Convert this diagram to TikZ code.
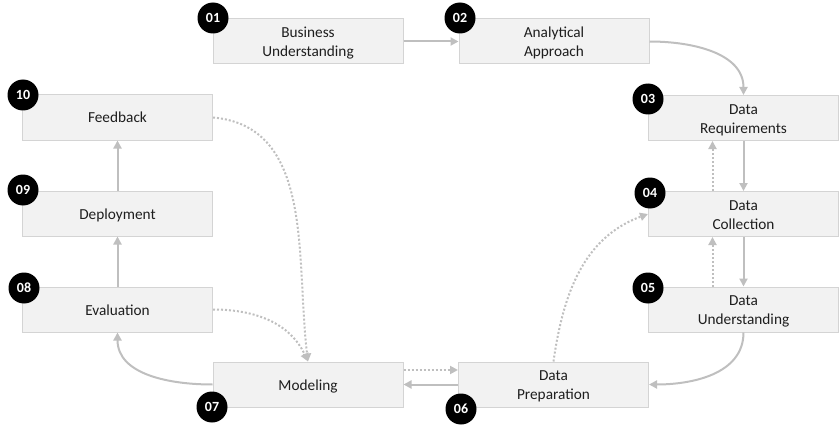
\documentclass[tikz,border=0pt]{standalone}
\usepackage{fontspec}
\setmainfont{Carlito}
\usetikzlibrary{arrows.meta}
\definecolor{boxfill}{HTML}{F2F2F2}
\definecolor{boxline}{HTML}{D4D4D4}
\definecolor{conn}{HTML}{BFBFBF}
\definecolor{txt}{HTML}{1E1E1E}
\newcommand\twolines[2]{\rule{0pt}{14pt}#1\\#2}
\tikzset{
  stepbox/.style={draw=boxline, line width=1pt, fill=boxfill, minimum width=190pt, minimum height=45pt,
    inner sep=0pt, align=center, text=txt, font=\fontsize{15.3}{19}\selectfont,
    execute at begin node={\rule{0pt}{14pt}},
    execute at end node={\rule[-3pt]{0pt}{3pt}}},
  numdot/.style={circle, fill=black, minimum size=31pt, inner sep=0pt, text=white,
    font=\fontsize{14}{14}\selectfont\bfseries},
  arr/.style={draw=conn, line width=2pt, -{Triangle[length=8pt,width=8pt]}},
  darr/.style={draw=conn, line width=2pt, dash pattern=on 2pt off 2pt, -{Triangle[length=8pt,width=8pt]}},
}
\begin{document}
\begin{tikzpicture}[x=1pt,y=-1pt]
\useasboundingbox (0,0) rectangle (839,428);
\node[stepbox] (b1) at (308,41.5) {\twolines{Business}{Understanding}};
\node[stepbox] (b2) at (554,41.5) {\twolines{Analytical}{Approach}};
\node[stepbox] (b3) at (743.5,118) {\twolines{Data}{Requirements}};
\node[stepbox] (b4) at (743.5,214) {\twolines{Data}{Collection}};
\node[stepbox] (b5) at (743.5,309.5) {\twolines{Data}{Understanding}};
\node[stepbox] (b6) at (553.5,384.5) {\twolines{Data}{Preparation}};
\node[stepbox] (b7) at (308,384.5) {Modeling};
\node[stepbox] (b8) at (117.5,309.5) {Evaluation};
\node[stepbox] (b9) at (117.5,213.5) {Deployment};
\node[stepbox] (b10) at (117.5,117.5) {Feedback};

% connectors
\draw[arr] (b1.east) -- (b2.west);
\draw[arr] (b2.east) to[out=0,in=90] (b3.north);
\draw[arr] (b3.south) -- (b4.north);
\draw[arr] (b4.south) -- (b5.north);
\draw[darr] ([xshift=-31pt]b4.north) -- ([xshift=-31pt]b3.south);
\draw[darr] ([xshift=-31pt]b5.north) -- ([xshift=-31pt]b4.south);
\draw[arr] (b5.south) to[out=-90,in=0] (b6.east);
\draw[arr] (b6.west) -- (b7.east);
\draw[darr] ([yshift=14.5pt]b7.east) -- ([yshift=14.5pt]b6.west);
\draw[darr] (b6.north) to[out=82,in=200] (b4.west);
\draw[arr] (b7.west) to[out=180,in=-90] (b8.south);
\draw[arr] (b8.north) -- (b9.south);
\draw[arr] (b9.north) -- (b10.south);
\draw[darr] (b10.east) to[out=-5,in=97] (b7.north);
\draw[darr] (b8.east) to[out=0,in=115] (b7.north);

% number badges
\node[numdot] (c1) at (213,18) {01};
\node[numdot] (c2) at (460,18) {02};
\node[numdot] (c3) at (648,99) {03};
\node[numdot] (c4) at (650,193) {04};
\node[numdot] (c5) at (648,288) {05};
\node[numdot] (c6) at (461,409) {06};
\node[numdot] (c7) at (212,407) {07};
\node[numdot] (c8) at (24,288) {08};
\node[numdot] (c9) at (23,190) {09};
\node[numdot] (c10) at (23,95) {10};
\end{tikzpicture}
\end{document}
